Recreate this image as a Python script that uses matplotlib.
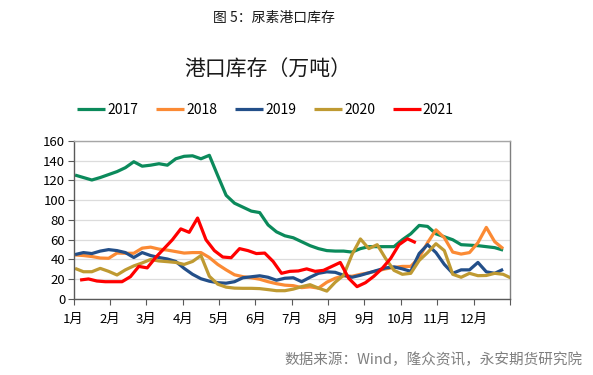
import numpy as np
import matplotlib
matplotlib.use("Agg")
import matplotlib.pyplot as plt

plt.rcParams['font.family'] = ['Noto Sans CJK SC', 'DejaVu Sans']

# Datos semanales (万吨)
MESES = ["1月", "2月", "3月", "4月", "5月", "6月", "7月", "8月", "9月", "10月", "11月", "12月"]
Y_TICKS = [0, 20, 40, 60, 80, 100, 120, 140, 160]

V2017 = [125.5, 123, 120.5, 123, 126, 129, 133, 139, 134.5, 135.5,
         137, 135.5, 142, 144.5, 145, 142, 145.5, 125, 105, 97,
         93, 89, 87.5, 75, 68, 64, 62, 58, 54, 51,
         49, 48.5, 48.5, 47.5, 51, 53, 53, 53, 53, 60,
         66, 74.5, 73.5, 66, 63, 60, 55, 54.5, 54, 53,
         52, 49.5]
V2018 = [44.6, 44, 43, 41.5, 41.2, 46.5, 46.3, 46.3, 51.5, 52.5,
         50.5, 49.5, 48, 46.5, 47, 47, 42, 35, 29.5, 24.5,
         22.6, 21.5, 20, 17.5, 15.5, 14, 13.5, 11.5, 12.3, 11,
         17, 21, 23.5, 23, 25, 26.5, 28.5, 30.5, 32, 33,
         33, 42, 57, 70, 62, 47.5, 45.5, 47, 57, 72.5,
         58, 51]
V2019 = [45, 47, 46, 48.5, 50, 49, 47, 42, 47, 44,
         42, 40.5, 38, 31, 25, 20.5, 18, 16.5, 16, 17.5,
         21.5, 22.5, 23.5, 22, 19, 21, 21.5, 17.5, 22, 26,
         27.5, 27, 24, 22, 24, 26.5, 29, 31.5, 32.5, 30.5,
         28, 46, 55, 47, 35, 26, 29.5, 29.5, 37, 27.5,
         26, 30]
V2020 = [31, 27.6, 27.6, 31, 28, 24.3, 29.5, 33.5, 36.5, 40,
         38.5, 37.8, 37, 35, 38, 44, 23, 15, 12, 11,
         10.8, 10.8, 10.5, 9.5, 8.4, 8.4, 10, 12.5, 14.5, 11,
         8, 17, 24, 45, 60.8, 51, 55, 41, 29, 25,
         26, 39, 47, 56, 49, 25, 22, 26, 23.6, 23.8,
         26, 25, 21]
V2021 = [19.2, 20.3, 18.2, 17.5, 17.5, 17.5, 22.6, 33, 31.5, 42,
         51, 60, 71, 67.5, 82, 60, 49, 42.5, 41.8, 51,
         49, 46, 46.5, 38, 26, 28, 28.4, 30.5, 28, 29,
         33, 37, 21, 12.5, 16.5, 23, 31, 41, 55, 61,
         57]

SERIES = [
    ("2017", V2017, "#0b8a5b", 0.18),
    ("2018", V2018, "#fb8a34", 0.18),
    ("2019", V2019, "#234f89", 0.18),
    ("2020", V2020, "#bf9a32", 0.18),
    ("2021", V2021, "#ff0000", 0.78),
]

SEMANAS = 52

fig = plt.figure(figsize=(5.93, 3.75), dpi=100)
ax = fig.add_axes([0.124, 0.2027, 0.736, 0.4213])

lineas = []
for nombre, valores, color, offset in SERIES:
    x = np.arange(len(valores)) + offset
    ln, = ax.plot(x, valores, color=color, linewidth=2.3, label=nombre,
                  solid_joinstyle='round', solid_capstyle='butt', clip_on=True)
    lineas.append(ln)

ax.set_xlim(0, SEMANAS)
ax.set_ylim(0, 160)
ticks_x = [k * SEMANAS / 12 for k in range(13)]
ax.set_xticks(ticks_x)
ax.set_xticklabels(MESES + [""])
ax.set_yticks(Y_TICKS)

ax.tick_params(axis='x', direction='out', length=4, width=0.8, color='#595959',
               labelsize=9.5, pad=6)
ax.tick_params(axis='y', direction='out', length=4, width=0.8, color='#595959',
               labelsize=9.5, pad=2)

ax.set_axisbelow(True)
ax.grid(True, axis='y', color='#dcdcdc', linewidth=0.9)
ax.grid(False, axis='x')

ax.spines['left'].set_color('#595959')
ax.spines['bottom'].set_color('#595959')
ax.spines['top'].set_color('#a6a6a6')
ax.spines['right'].set_color('#7f7f7f')
for s in ax.spines.values():
    s.set_linewidth(1.0)

fig.text(0.462, 0.952, "图 5：尿素港口库存", fontsize=10, ha='center', va='center', color='#1a1a1a')
fig.text(0.452, 0.813, "港口库存（万吨）", fontsize=15, ha='center', va='center', color='#1a1a1a')

fig.legend(handles=lineas, loc='center', bbox_to_anchor=(0.448, 0.707), ncol=5,
           frameon=False, fontsize=10, handlelength=2.0, handletextpad=0.15,
           columnspacing=1.3)

fig.text(0.983, 0.04, "数据来源：Wind，隆众资讯，永安期货研究院", fontsize=10.5,
         ha='right', va='center', color='#7f7f7f')

fig.savefig("out.png", dpi=100)
